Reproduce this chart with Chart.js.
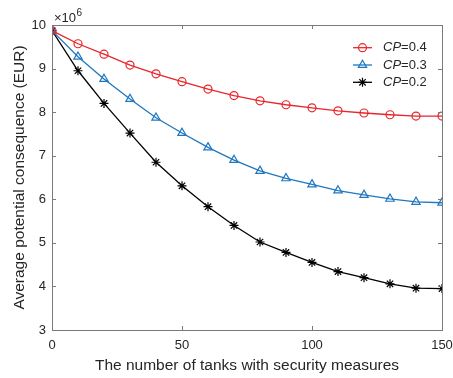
<!DOCTYPE html>
<html><head><meta charset="utf-8">
<script src="https://cdn.jsdelivr.net/npm/chart.js@4/dist/chart.umd.min.js"></script>
<style>html,body{margin:0;padding:0;background:#fff}#wrap{width:453px;height:378px}</style>
</head><body><div id="wrap"><canvas id="c" width="453" height="378"></canvas></div>
<script>
const xValues = [0,10,20,30,40,50,60,70,80,90,100,110,120,130,140,150];
const cp04 = [9.87,9.57,9.33,9.08,8.88,8.70,8.53,8.38,8.26,8.17,8.10,8.03,7.98,7.94,7.91,7.91];
const cp03 = [9.87,9.27,8.76,8.30,7.87,7.52,7.19,6.90,6.65,6.48,6.34,6.20,6.10,6.01,5.94,5.92];
const cp02 = [9.87,8.95,8.20,7.52,6.85,6.31,5.83,5.40,5.02,4.78,4.55,4.34,4.20,4.06,3.96,3.95];
const seriesLabels = ["0.4","0.3","0.2"];
const xTitle = "The number of tanks with security measures";
const yTitle = "Average potential consequence (EUR)";

const FONT = "'Liberation Sans', Arial, sans-serif";
const TXT = "#262626";
const AX = "#7a7a7a";

function pts(arr){ return arr.map((v,i)=>({x:xValues[i], y:v})); }

const styles = [
  {color:"#e8262b", style:"circle", r:4},
  {color:"#1f77c0", style:"triangle", r:4.8},
  {color:"#000000", style:"star", r:4.5}
];
const datasets = [cp04,cp03,cp02].map((d,i)=>({
  label: "CP="+seriesLabels[i],
  data: pts(d),
  borderColor: styles[i].color,
  backgroundColor: "rgba(0,0,0,0)",
  borderWidth: 1.3,
  pointStyle: styles[i].style,
  pointRadius: styles[i].r,
  pointBorderColor: styles[i].color,
  pointBackgroundColor: "rgba(0,0,0,0)",
  pointBorderWidth: 1.2,
  tension: 0
}));

const boxPlugin = {
  id: "box",
  afterDraw(chart){
    const ctx = chart.ctx, a = chart.chartArea;
    const xs = chart.scales.x, ys = chart.scales.y;
    ctx.save();
    ctx.strokeStyle = AX; ctx.lineWidth = 1;
    ctx.strokeRect(Math.round(a.left)+0.5, Math.round(a.top)+0.5, Math.round(a.right-a.left), Math.round(a.bottom-a.top));
    const L = 4;
    ctx.beginPath();
    xs.ticks.forEach(t=>{
      const px = Math.round(xs.getPixelForValue(t.value))+0.5;
      ctx.moveTo(px,a.bottom); ctx.lineTo(px,a.bottom-L);
      ctx.moveTo(px,a.top); ctx.lineTo(px,a.top+L);
    });
    ys.ticks.forEach(t=>{
      const py = Math.round(ys.getPixelForValue(t.value))+0.5;
      ctx.moveTo(a.left,py); ctx.lineTo(a.left+L,py);
      ctx.moveTo(a.right,py); ctx.lineTo(a.right-L,py);
    });
    ctx.stroke();
    // exponent label
    ctx.fillStyle = TXT;
    ctx.textBaseline = "alphabetic";
    ctx.textAlign = "left";
    ctx.font = "13px " + FONT;
    const ex = a.left + 2, ey = a.top - 3;
    ctx.fillText("\u00d710", ex, ey);
    const w = ctx.measureText("\u00d710").width;
    ctx.font = "10px " + FONT;
    ctx.fillText("6", ex + w + 0.5, ey - 6);
    // legend
    const rows = [47.7, 65, 82.3];
    chart.data.datasets.forEach((ds,i)=>{
      const y = rows[i];
      ctx.strokeStyle = ds.borderColor; ctx.lineWidth = 1.3;
      ctx.beginPath(); ctx.moveTo(353,y); ctx.lineTo(372,y); ctx.stroke();
      ctx.fillStyle = "rgba(0,0,0,0)";
      ctx.strokeStyle = ds.borderColor;
      ctx.lineWidth = ds.pointBorderWidth;
      Chart.helpers.drawPoint(ctx, {pointStyle: ds.pointStyle, radius: ds.pointRadius, borderWidth: ds.pointBorderWidth}, 362.5, y);
      ctx.fillStyle = TXT;
      ctx.textBaseline = "middle";
      ctx.font = "italic 13px " + FONT;
      ctx.fillText("CP", 383, y);
      const cw = ctx.measureText("CP").width;
      ctx.font = "13px " + FONT;
      ctx.fillText("=" + seriesLabels[i], 383 + cw, y);
    });
    ctx.restore();
  }
};

new Chart(document.getElementById("c"), {
  type: "line",
  data: { datasets },
  options: {
    responsive: false,
    animation: false,
    devicePixelRatio: 1,
    layout: { padding: { left: 0, top: 25, right: 11, bottom: 0 } },
    plugins: { legend: { display: false }, tooltip: { enabled: false } },
    scales: {
      x: {
        type: "linear", min: 0, max: 150,
        ticks: { stepSize: 50, color: TXT, font: { family: FONT, size: 13 }, padding: 8, maxRotation: 0 },
        grid: { display: false, tickLength: 0 },
        border: { display: false },
        title: { display: true, text: xTitle, color: TXT, font: { family: FONT, size: 15.5 }, padding: { top: 0, bottom: 3 } },
        afterFit(s){ s.height = 48; s.paddingLeft = 0; s.paddingRight = 0; }
      },
      y: {
        type: "linear", min: 3, max: 10,
        ticks: { stepSize: 1, color: TXT, font: { family: FONT, size: 13 }, padding: 6 },
        grid: { display: false, tickLength: 0 },
        border: { display: false },
        title: { display: true, text: yTitle, color: TXT, font: { family: FONT, size: 15.5 }, padding: { top: 10, bottom: 0 } },
        afterFit(s){ s.width = 52; s.paddingTop = 0; s.paddingBottom = 0; }
      }
    }
  },
  plugins: [boxPlugin]
});
</script>
</body></html>
